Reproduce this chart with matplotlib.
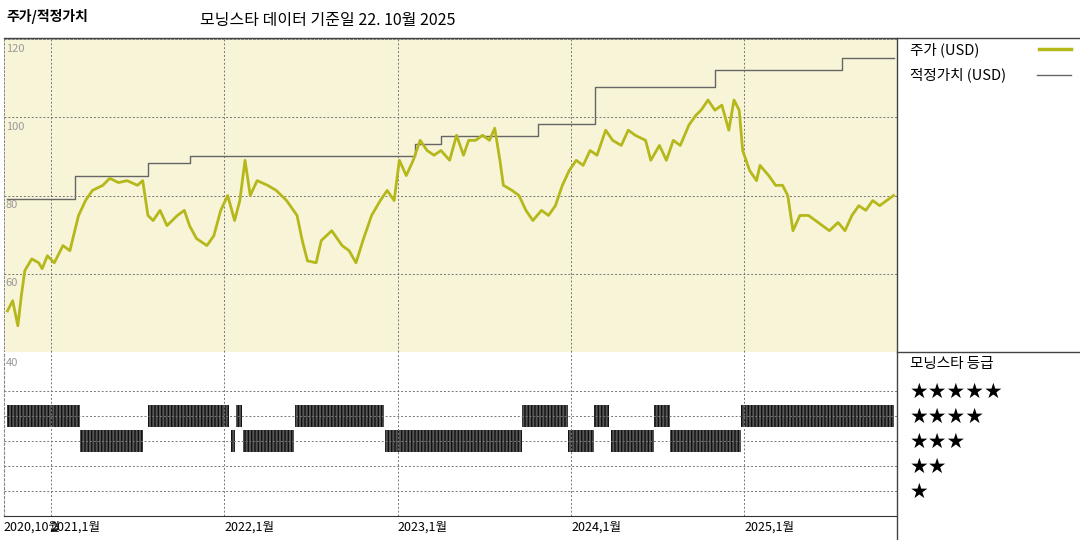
import matplotlib
matplotlib.use("Agg")
import matplotlib.pyplot as plt
from matplotlib.lines import Line2D

plt.rcParams['font.family'] = ['Noto Sans CJK KR', 'DejaVu Sans']

# price (USD), fractional year
price_t = [2020.75, 2020.78, 2020.81, 2020.83, 2020.85, 2020.89, 2020.93, 2020.95, 2020.98, 2021.02,
           2021.07, 2021.11, 2021.16, 2021.20, 2021.24, 2021.30, 2021.34, 2021.39, 2021.44, 2021.50,
           2021.53, 2021.56, 2021.59, 2021.63, 2021.67, 2021.73, 2021.77, 2021.80, 2021.84, 2021.90,
           2021.94, 2021.98, 2022.02, 2022.06, 2022.09, 2022.12, 2022.15, 2022.19, 2022.25, 2022.30,
           2022.36, 2022.42, 2022.45, 2022.48, 2022.53, 2022.56, 2022.62, 2022.68, 2022.72, 2022.76,
           2022.80, 2022.85, 2022.90, 2022.94, 2022.98, 2023.01, 2023.05, 2023.09, 2023.13, 2023.17,
           2023.21, 2023.25, 2023.30, 2023.34, 2023.38, 2023.41, 2023.45, 2023.49, 2023.53, 2023.56,
           2023.59, 2023.61, 2023.66, 2023.70, 2023.74, 2023.78, 2023.83, 2023.87, 2023.91, 2023.95,
           2023.99, 2024.03, 2024.07, 2024.11, 2024.15, 2024.20, 2024.24, 2024.29, 2024.33, 2024.37,
           2024.43, 2024.46, 2024.51, 2024.55, 2024.59, 2024.63, 2024.68, 2024.72, 2024.75, 2024.79,
           2024.83, 2024.87, 2024.91, 2024.94, 2024.97, 2024.99, 2025.03, 2025.07, 2025.09, 2025.14,
           2025.18, 2025.22, 2025.25, 2025.28, 2025.32, 2025.37, 2025.41, 2025.45, 2025.49, 2025.54,
           2025.58, 2025.62, 2025.66, 2025.70, 2025.74, 2025.78, 2025.82, 2025.86]
price_v = [50.5, 53.1, 46.7, 54.4, 60.8, 63.8, 62.8, 61.3, 64.6, 62.8,
           67.2, 65.9, 74.9, 78.7, 81.3, 82.6, 84.4, 83.3, 83.8, 82.6,
           83.8, 74.9, 73.6, 76.2, 72.3, 74.9, 76.2, 72.3, 69.0, 67.2,
           69.7, 76.2, 80.0, 73.6, 78.7, 89.0, 80.0, 83.8, 82.6, 81.3,
           78.7, 74.9, 68.5, 63.3, 62.8, 68.5, 71.0, 67.2, 65.9, 62.8,
           68.5, 74.9, 78.7, 81.3, 78.7, 89.0, 85.1, 89.0, 94.1, 91.5,
           90.3, 91.5, 89.0, 95.4, 90.3, 94.1, 94.1, 95.4, 94.1, 97.2,
           89.0, 82.6, 81.3, 80.0, 76.2, 73.6, 76.2, 74.9, 77.4, 82.6,
           86.4, 89.0, 87.7, 91.5, 90.3, 96.7, 94.1, 92.8, 96.7, 95.4,
           94.1, 89.0, 92.8, 89.0, 94.1, 92.8, 98.0, 100.5, 101.8, 104.4,
           101.8, 103.1, 96.7, 104.4, 101.8, 91.5, 86.4, 83.8, 87.7, 85.1,
           82.6, 82.6, 80.0, 71.0, 74.9, 74.9, 73.6, 72.3, 71.0, 73.1,
           71.0, 74.9, 77.4, 76.2, 78.7, 77.4, 78.7, 80.0]

# fair value step changes
fair_t = [2020.75, 2021.14, 2021.56, 2021.80, 2023.10, 2023.25, 2023.81, 2024.14, 2024.83, 2025.56, 2025.86]
fair_v = [79.0, 85.1, 88.2, 90.0, 93.1, 95.1, 98.2, 107.7, 112.0, 115.1, 115.1]

# star rating periods (start, end)
rating4 = [(2020.75, 2021.17), (2021.56, 2022.03), (2022.07, 2022.10), (2022.41, 2022.92),
           (2023.72, 2023.98), (2024.13, 2024.22), (2024.48, 2024.57), (2024.98, 2025.86)]
rating3 = [(2021.17, 2021.53), (2022.04, 2022.06), (2022.11, 2022.40), (2022.93, 2023.72),
           (2023.98, 2024.13), (2024.23, 2024.48), (2024.57, 2024.98)]

year_ticks = [2021, 2022, 2023, 2024, 2025]
year_labels = ['2021,1월', '2022,1월', '2023,1월', '2024,1월', '2025,1월']
y_ticks = [120, 100, 80, 60, 40]

W, H = 1080, 540
x0, x1 = 2020.73, 2025.88
fig = plt.figure(figsize=(10.8, 5.4), dpi=100)


def box(l, t, r, b):
    return [l / W, 1 - b / H, (r - l) / W, (b - t) / H]


grid_kw = dict(color='#777777', lw=0.7, ls=(0, (2, 2)))

# price panel
ax = fig.add_axes(box(4, 39, 897, 352))
ax.set_facecolor('#f8f4d8')
ax.set_xlim(x0, x1)
ax.set_ylim(40, 120)
for y in [100, 80, 60]:
    ax.axhline(y, **grid_kw)
for x in year_ticks:
    ax.axvline(x, **grid_kw)
ax.step(fair_t, fair_v, where='post', color='#666666', lw=1)
ax.plot(price_t, price_v, color='#b5b81a', lw=2)
for y in y_ticks[:-1]:
    ax.text(x0 + 0.01, y - 1.2, str(y), color='#999999', fontsize=8, va='top')
ax.set_xticks([])
ax.set_yticks([])
for s in ax.spines.values():
    s.set_color('#888888')
    s.set_linestyle((0, (2, 2)))
    s.set_linewidth(0.7)

# rating panel
ax2 = fig.add_axes(box(4, 352, 897, 516))
ax2.set_xlim(x0, x1)
ax2.set_ylim(0, 6.56)
for r in [1, 2, 3, 4, 5]:
    ax2.axhline(r, **grid_kw)
for x in year_ticks:
    ax2.axvline(x, **grid_kw)
for row, segs in [(4, rating4), (3, rating3)]:
    ax2.broken_barh([(a, b - a) for a, b in segs], (row - 0.45, 0.9),
                    facecolor='#555555', edgecolor='#111111', hatch='|||||', lw=0)
ax2.text(x0 + 0.01, 6.3, '40', color='#999999', fontsize=8, va='top')
ax2.set_xticks([])
ax2.set_yticks([])
for k in ['top', 'right']:
    ax2.spines[k].set_visible(False)
ax2.spines['left'].set_color('#888888')
ax2.spines['left'].set_linestyle((0, (2, 2)))
ax2.spines['bottom'].set_color('#333333')

# date labels
trans = ax2.get_xaxis_transform()
ax2.text(x0 - 0.005, -0.03, '2020,10월', transform=trans, fontsize=9, va='top', ha='left')
for x, lab in zip(year_ticks, year_labels):
    ax2.text(x, -0.03, lab, transform=trans, fontsize=9, va='top', ha='left')

# frame lines of right panel
fig.add_artist(Line2D([897 / W, 897 / W], [0, 1 - 38 / H], color='#444444', lw=1))
fig.add_artist(Line2D([4 / W, 1], [1 - 38 / H] * 2, color='#444444', lw=1))
fig.add_artist(Line2D([897 / W, 1], [1 - 352 / H] * 2, color='#444444', lw=1))

# titles
fig.text(6 / W, 1 - 17 / H, '주가/적정가치', fontsize=10, fontweight='bold', va='center')
fig.text(200 / W, 1 - 20 / H, '모닝스타 데이터 기준일 22. 10월 2025', fontsize=11.5, va='center')

# legend
fig.text(910 / W, 1 - 50 / H, '주가 (USD)', fontsize=10.5, va='center')
fig.add_artist(Line2D([1039 / W, 1071 / W], [1 - 49 / H] * 2, color='#b5b81a', lw=2.5))
fig.text(910 / W, 1 - 75 / H, '적정가치 (USD)', fontsize=10.5, va='center')
fig.add_artist(Line2D([1037 / W, 1071 / W], [1 - 75 / H] * 2, color='#666666', lw=1))

fig.text(910 / W, 1 - 364 / H, '모닝스타 등급', fontsize=10.5, va='center')
for i, n in enumerate([5, 4, 3, 2, 1]):
    fig.text(910 / W, 1 - (392 + i * 25) / H, '★' * n, fontsize=15, va='center',
             family=['DejaVu Sans'])

fig.savefig('out.png', dpi=100)
